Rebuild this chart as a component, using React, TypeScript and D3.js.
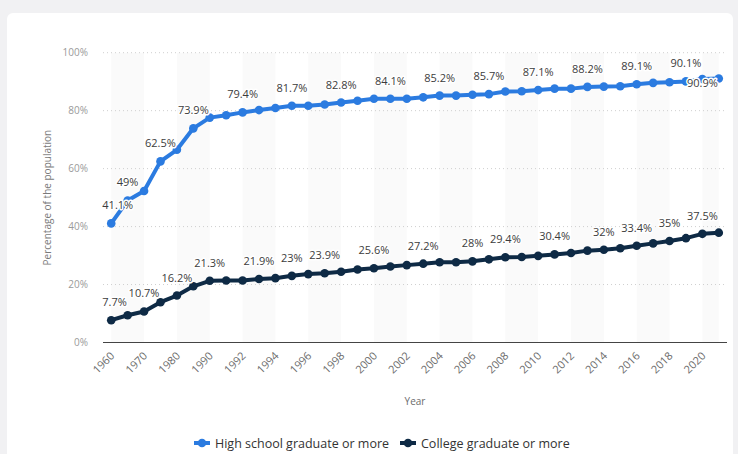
import React from "react";
import * as d3 from "d3";

const years = [
  "1960", "1965", "1970", "1975", "1980", "1985", "1990", "1991", "1992", "1993",
  "1994", "1995", "1996", "1997", "1998", "1999", "2000", "2001", "2002", "2003",
  "2004", "2005", "2006", "2007", "2008", "2009", "2010", "2011", "2012", "2013",
  "2014", "2015", "2016", "2017", "2018", "2019", "2020", "2021",
];

const highSchool = [
  41.1, 49.0, 52.3, 62.5, 66.5, 73.9, 77.6, 78.4, 79.4, 80.2,
  80.9, 81.7, 81.7, 82.1, 82.8, 83.4, 84.1, 84.1, 84.1, 84.6,
  85.2, 85.2, 85.5, 85.7, 86.6, 86.7, 87.1, 87.6, 87.6, 88.2,
  88.3, 88.4, 89.1, 89.6, 89.8, 90.1, 90.9, 91.1,
];

const college = [
  7.7, 9.4, 10.7, 13.9, 16.2, 19.4, 21.3, 21.4, 21.4, 21.9,
  22.2, 23.0, 23.6, 23.9, 24.4, 25.2, 25.6, 26.2, 26.7, 27.2,
  27.7, 27.7, 28.0, 28.7, 29.4, 29.5, 29.9, 30.4, 30.9, 31.7,
  32.0, 32.5, 33.4, 34.2, 35.0, 36.0, 37.5, 37.9,
];

const highSchoolLabelIdx = [0, 1, 3, 5, 8, 11, 14, 17, 20, 23, 26, 29, 32, 35];
const highSchoolLabelBelowIdx = [36];
const collegeLabelIdx = [0, 2, 4, 6, 9, 11, 13, 16, 19, 22, 24, 27, 30, 32, 34, 36];

const xTickIdx = [0, 2, 4, 6, 8, 10, 12, 14, 16, 18, 20, 22, 24, 26, 28, 30, 32, 34, 36];
const yTicks = [0, 20, 40, 60, 80, 100];

const seriesNames = ["High school graduate or more", "College graduate or more"];
const seriesColors = ["#2b7be0", "#0e2a45"];

const W = 738;
const H = 454;
const plotL = 103;
const plotR = 727;
const plotT = 52.7;
const plotB = 342.5;
const FONT = "'Open Sans', 'DejaVu Sans', sans-serif";

export default function App() {
  const x = d3.scaleLinear().domain([-0.5, years.length - 0.5]).range([plotL, plotR]);
  const y = d3.scaleLinear().domain([0, 100]).range([plotB, plotT]);

  const line = d3
    .line<number>()
    .x((_, i) => x(i))
    .y((d) => y(d));

  const bands: [number, number][] = [];
  for (let i = 0; i < years.length - 1; i += 4) {
    bands.push([i, Math.min(i + 2, years.length - 1)]);
  }

  const fmt = (v: number) => `${v}%`;
  const labelW = (s: string) => s.length * 6.3;

  const dataLabel = (vals: number[], i: number, below: boolean, key: string) => {
    const s = fmt(vals[i]);
    const w = labelW(s);
    let cx = x(i);
    if (cx - w / 2 < plotL - 1) cx = plotL - 1 + w / 2;
    const cy = below ? y(vals[i]) + 8 : y(vals[i]) - 14;
    return (
      <text
        key={key}
        x={cx}
        y={cy}
        textAnchor="middle"
        fontSize={11}
        fill="#3c3c3c"
        stroke="#ffffff"
        strokeWidth={3}
        strokeLinejoin="round"
        style={{ paintOrder: "stroke" }}
      >
        {s}
      </text>
    );
  };

  const series = [highSchool, college];

  return (
    <svg
      width={W}
      height={H}
      style={{ position: "absolute", left: 0, top: 0, fontFamily: FONT }}
    >
      <rect x={0} y={0} width={W} height={H} fill="#f1f1f3" />
      <rect x={7} y={13} width={726} height={H} rx={6} fill="#ffffff" />

      {bands.map(([a, b], k) => (
        <rect
          key={"band" + k}
          x={x(a)}
          y={plotT}
          width={x(b) - x(a)}
          height={plotB - plotT}
          fill="#fafafa"
        />
      ))}

      {yTicks.map((t) => (
        <g key={"yt" + t}>
          {t > 0 && (
            <line
              x1={plotL}
              x2={plotR}
              y1={y(t)}
              y2={y(t)}
              stroke="#cfcfcf"
              strokeWidth={1}
              strokeDasharray="1,3"
            />
          )}
          <text
            x={88}
            y={y(t) + 3.5}
            textAnchor="end"
            fontSize={10}
            fill="#9a9a9a"
          >
            {t}%
          </text>
        </g>
      ))}

      <line x1={plotL} x2={plotR} y1={plotB} y2={plotB} stroke="#444" strokeWidth={1.2} />

      {xTickIdx.map((i) => (
        <text
          key={"xt" + i}
          transform={`translate(${x(i) + 4},${plotB + 14}) rotate(-45)`}
          textAnchor="end"
          fontSize={11}
          fill="#6b6b6b"
        >
          {years[i]}
        </text>
      ))}

      <text x={(plotL + plotR) / 2} y={405} textAnchor="middle" fontSize={10} fill="#6b6b6b">
        Year
      </text>
      <text
        transform={`translate(51,${(plotT + plotB) / 2}) rotate(-90)`}
        textAnchor="middle"
        fontSize={10}
        fill="#7a7a7a"
      >
        Percentage of the population
      </text>

      {series.map((vals, s) => (
        <g key={"s" + s}>
          <path d={line(vals) || ""} fill="none" stroke={seriesColors[s]} strokeWidth={4} strokeLinejoin="round" />
          {vals.map((v, i) => (
            <circle key={i} cx={x(i)} cy={y(v)} r={4.3} fill={seriesColors[s]} />
          ))}
        </g>
      ))}

      {highSchoolLabelIdx.map((i) => dataLabel(highSchool, i, false, "hl" + i))}
      {highSchoolLabelBelowIdx.map((i) => dataLabel(highSchool, i, true, "hb" + i))}
      {collegeLabelIdx.map((i) => dataLabel(college, i, false, "cl" + i))}

      {seriesNames.map((name, s) => {
        const lx = s === 0 ? 194 : 400;
        const ly = 443;
        return (
          <g key={"lg" + s}>
            <line x1={lx} x2={lx + 16} y1={ly} y2={ly} stroke={seriesColors[s]} strokeWidth={4} />
            <circle cx={lx + 8} cy={ly} r={4.3} fill={seriesColors[s]} />
            <text x={lx + 21} y={ly + 4.5} fontSize={12.5} fill="#333">
              {name}
            </text>
          </g>
        );
      })}
    </svg>
  );
}
